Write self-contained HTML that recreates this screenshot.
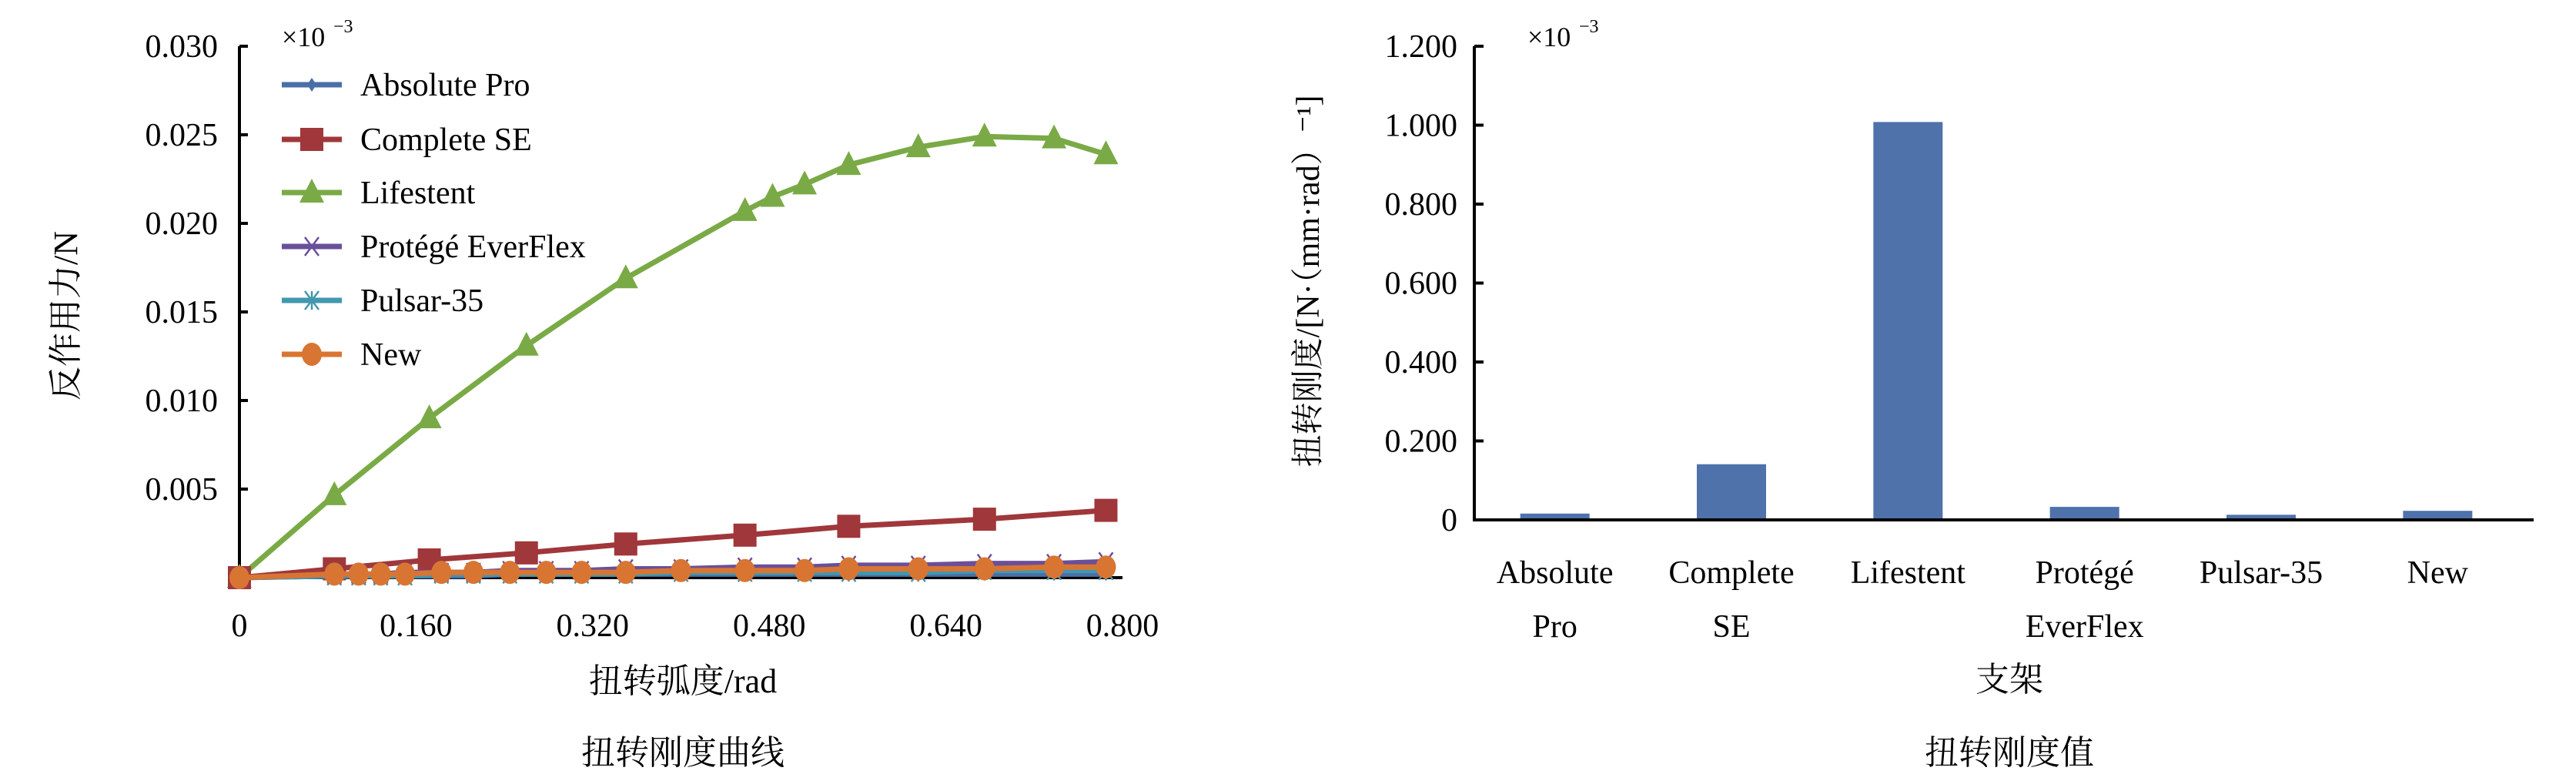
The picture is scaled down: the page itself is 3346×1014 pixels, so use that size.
<!DOCTYPE html>
<html><head><meta charset="utf-8">
<style>
html,body{margin:0;padding:0;background:#fff;}
svg{display:block;font-family:"Liberation Serif","Noto Serif CJK SC","Noto Sans CJK SC",serif;}
</style></head>
<body>
<svg id="c" width="3346" height="1014" viewBox="0 0 3346 1014"></svg>
<script>
// ---- Left chart data ----
const xTicks=["0","0.160","0.320","0.480","0.640","0.800"];
const xTickVals=[0,0.16,0.32,0.48,0.64,0.8];
const yTicks=["0.005","0.010","0.015","0.020","0.025","0.030"];
const yTickVals=[0.005,0.010,0.015,0.020,0.025,0.030];
const lifeX=[0,0.086,0.172,0.260,0.350,0.458,0.483,0.512,0.552,0.615,0.675,0.738,0.785];
const lifeY=[0,0.00466,0.0090,0.0131,0.0169,0.0207,0.0215,0.0222,0.0233,0.0243,0.0249,0.0248,0.0239];
const compX=[0,0.086,0.172,0.260,0.350,0.458,0.552,0.675,0.785];
const compY=[0,0.0005,0.0010,0.0014,0.0019,0.0024,0.0029,0.0033,0.0038];
const lowX=[0,0.086,0.108,0.128,0.150,0.183,0.212,0.245,0.278,0.310,0.350,0.400,0.458,0.512,0.552,0.615,0.675,0.738,0.785];
const absY=[0,0.0001,0.0001,0.0001,0.0001,0.0001,0.0001,0.0002,0.0002,0.0002,0.0002,0.0002,0.0002,0.0002,0.0002,0.0002,0.0002,0.0002,0.0002];
const protY=[0,0.0002,0.0002,0.0002,0.0003,0.0003,0.0003,0.0004,0.0004,0.0004,0.0005,0.0005,0.0006,0.0006,0.0007,0.0007,0.0008,0.0008,0.0009];
const pulsY=[0,0.0001,0.0001,0.0001,0.0001,0.0002,0.0002,0.0002,0.0002,0.0002,0.0002,0.0003,0.0003,0.0003,0.0003,0.0003,0.0004,0.0004,0.0004];
const newY=[0,0.0002,0.0002,0.0002,0.0002,0.0003,0.0003,0.0003,0.0003,0.0003,0.0003,0.0004,0.0004,0.0004,0.0005,0.0005,0.0005,0.0006,0.0006];
const seriesNames=["Absolute Pro","Complete SE","Lifestent","Protégé EverFlex","Pulsar-35","New"];
// ---- Right chart data ----
const cats=[["Absolute","Pro"],["Complete","SE"],["Lifestent"],["Protégé","EverFlex"],["Pulsar-35"],["New"]];
const barVals=[0.016,0.141,1.008,0.033,0.013,0.023];
const bTicks=["0","0.200","0.400","0.600","0.800","1.000","1.200"];
const bTickVals=[0,0.2,0.4,0.6,0.8,1.0,1.2];

const NS="http://www.w3.org/2000/svg";
const svg=document.getElementById('c');
function mk(tag,attrs,parent,text){const e=document.createElementNS(NS,tag);for(const k in attrs)e.setAttribute(k,attrs[k]);if(text!==undefined)e.textContent=text;(parent||svg).appendChild(e);return e;}

// axes functions left
const X0=311,X1=1458,Y0=750,Y1=60;
const sx=v=>X0+v/0.8*(X1-X0);
const sy=v=>Y0-v/0.030*(Y0-Y1);

let e;
e=mk('line',{x1:X0,y1:Y1,x2:X0,y2:Y0+2,stroke:'#000','stroke-width':4});


e=mk('line',{x1:X0,y1:Y0,x2:X1,y2:Y0,stroke:'#000','stroke-width':4});


yTickVals.forEach((v,i)=>{
  mk('line',{x1:X0,y1:sy(v),x2:X0+11,y2:sy(v),stroke:'#000','stroke-width':4});
  e=mk('text',{x:X0-28,y:sy(v)+14,'text-anchor':'end','font-size':42},svg,yTicks[i]);
  
  
});
e=mk('text',{x:X0-28,y:Y0+14,'text-anchor':'end','font-size':42},svg,'');
xTickVals.forEach((v,i)=>{
  e=mk('text',{x:sx(v),y:Y0+76,'text-anchor':'middle','font-size':42},svg,xTicks[i]);
  
  
});
e=mk('text',{x:366,y:60,'font-size':36},svg,'×10');


mk('text',{x:433,y:42,'font-size':24},svg,'−3');

const colors=['#4a6fa8','#a0373a','#7aaa46','#6a4f9a','#4298ae','#d87533'];
function marker(kind,cx,cy,col,g){
  if(kind==='sq')mk('rect',{x:cx-15,y:cy-15,width:30,height:30,fill:col},g);
  else if(kind==='tri')mk('polygon',{points:`${cx},${cy-18} ${cx-16},${cy+13} ${cx+16},${cy+13}`,fill:col},g);
  else if(kind==='dia')mk('polygon',{points:`${cx},${cy-9} ${cx-6},${cy} ${cx},${cy+9} ${cx+6},${cy}`,fill:col},g);
  else if(kind==='x')mk('path',{d:`M${cx-9},${cy-12}L${cx+9},${cy+12}M${cx+9},${cy-12}L${cx-9},${cy+12}`,stroke:col,'stroke-width':2.5,fill:'none'},g);
  else if(kind==='star')mk('path',{d:`M${cx-9},${cy-12}L${cx+9},${cy+12}M${cx+9},${cy-12}L${cx-9},${cy+12}M${cx},${cy-12}L${cx},${cy+12}`,stroke:col,'stroke-width':2.5,fill:'none'},g);
  else if(kind==='circ')mk('ellipse',{cx:cx,cy:cy,rx:13,ry:15,fill:col},g);
}
const series=[[lowX,absY,'dia'],[compX,compY,'sq'],[lifeX,lifeY,'tri'],[lowX,protY,'x'],[lowX,pulsY,'star'],[lowX,newY,'circ']];
const order=[2,1,0,4,3,5];
order.forEach(i=>{
  const [xs,ys,k]=series[i];
  const g=mk('g',{});
  
  
  mk('polyline',{points:xs.map((x,j)=>sx(x)+','+sy(ys[j])).join(' '),fill:'none',stroke:colors[i],'stroke-width':7},g);
  xs.forEach((x,j)=>marker(k,sx(x),sy(ys[j]),colors[i],g));
});
// legend
const legY=[110,181,250,320,390,460];
const kinds=['dia','sq','tri','x','star','circ'];
seriesNames.forEach((n,i)=>{
  const g=mk('g',{});
  
  
  mk('line',{x1:366,y1:legY[i],x2:444,y2:legY[i],stroke:colors[i],'stroke-width':7},g);
  marker(kinds[i],405,legY[i],colors[i],g);
  mk('text',{x:468,y:legY[i]+14,'font-size':42},g,n);
});
e=mk('text',{x:0,y:0,'font-size':44,'text-anchor':'middle',transform:'translate(100,410) rotate(-90)'},svg,'反作用力/N');


e=mk('text',{x:887,y:899,'font-size':44,'text-anchor':'middle'},svg,'扭转弧度/rad');


e=mk('text',{x:887,y:992,'font-size':44,'text-anchor':'middle'},svg,'扭转刚度曲线');



// right chart
const BX0=1915,BX1=3291,BY0=675,BY1=60;
const by=v=>BY0-v/1.2*(BY0-BY1);
const band=(BX1-BX0)/cats.length;
const bx=i=>BX0+band*(i+0.5)-10;
bTickVals.forEach((v,i)=>{
  if(i>0)mk('line',{x1:BX0,y1:by(v),x2:BX0+12,y2:by(v),stroke:'#000','stroke-width':4});
  e=mk('text',{x:BX0-22,y:by(v)+14,'text-anchor':'end','font-size':42},svg,bTicks[i]);
  
  
});
barVals.forEach((v,i)=>{
  e=mk('rect',{x:bx(i)-45,y:by(v),width:90,height:BY0-by(v),fill:'#4f72ab'});
  
  
  cats[i].forEach((t,j)=>{
    e=mk('text',{x:bx(i),y:BY0+82+j*70,'text-anchor':'middle','font-size':42},svg,t);
    
    
  });
});
e=mk('line',{x1:BX0,y1:BY1,x2:BX0,y2:BY0+2,stroke:'#000','stroke-width':4});


e=mk('line',{x1:BX0,y1:BY0,x2:BX1,y2:BY0,stroke:'#000','stroke-width':4});


e=mk('text',{x:1984,y:60,'font-size':36},svg,'×10');


mk('text',{x:2051,y:42,'font-size':24},svg,'−3');
e=mk('text',{x:0,y:0,'font-size':42,'text-anchor':'middle',transform:'translate(1713,365) rotate(-90)'},svg,'扭转刚度/[N·（mm·rad）⁻¹]');


e=mk('text',{x:2610,y:897,'font-size':44,'text-anchor':'middle'},svg,'支架');


e=mk('text',{x:2610,y:992,'font-size':44,'text-anchor':'middle'},svg,'扭转刚度值');


</script>
</body></html>
